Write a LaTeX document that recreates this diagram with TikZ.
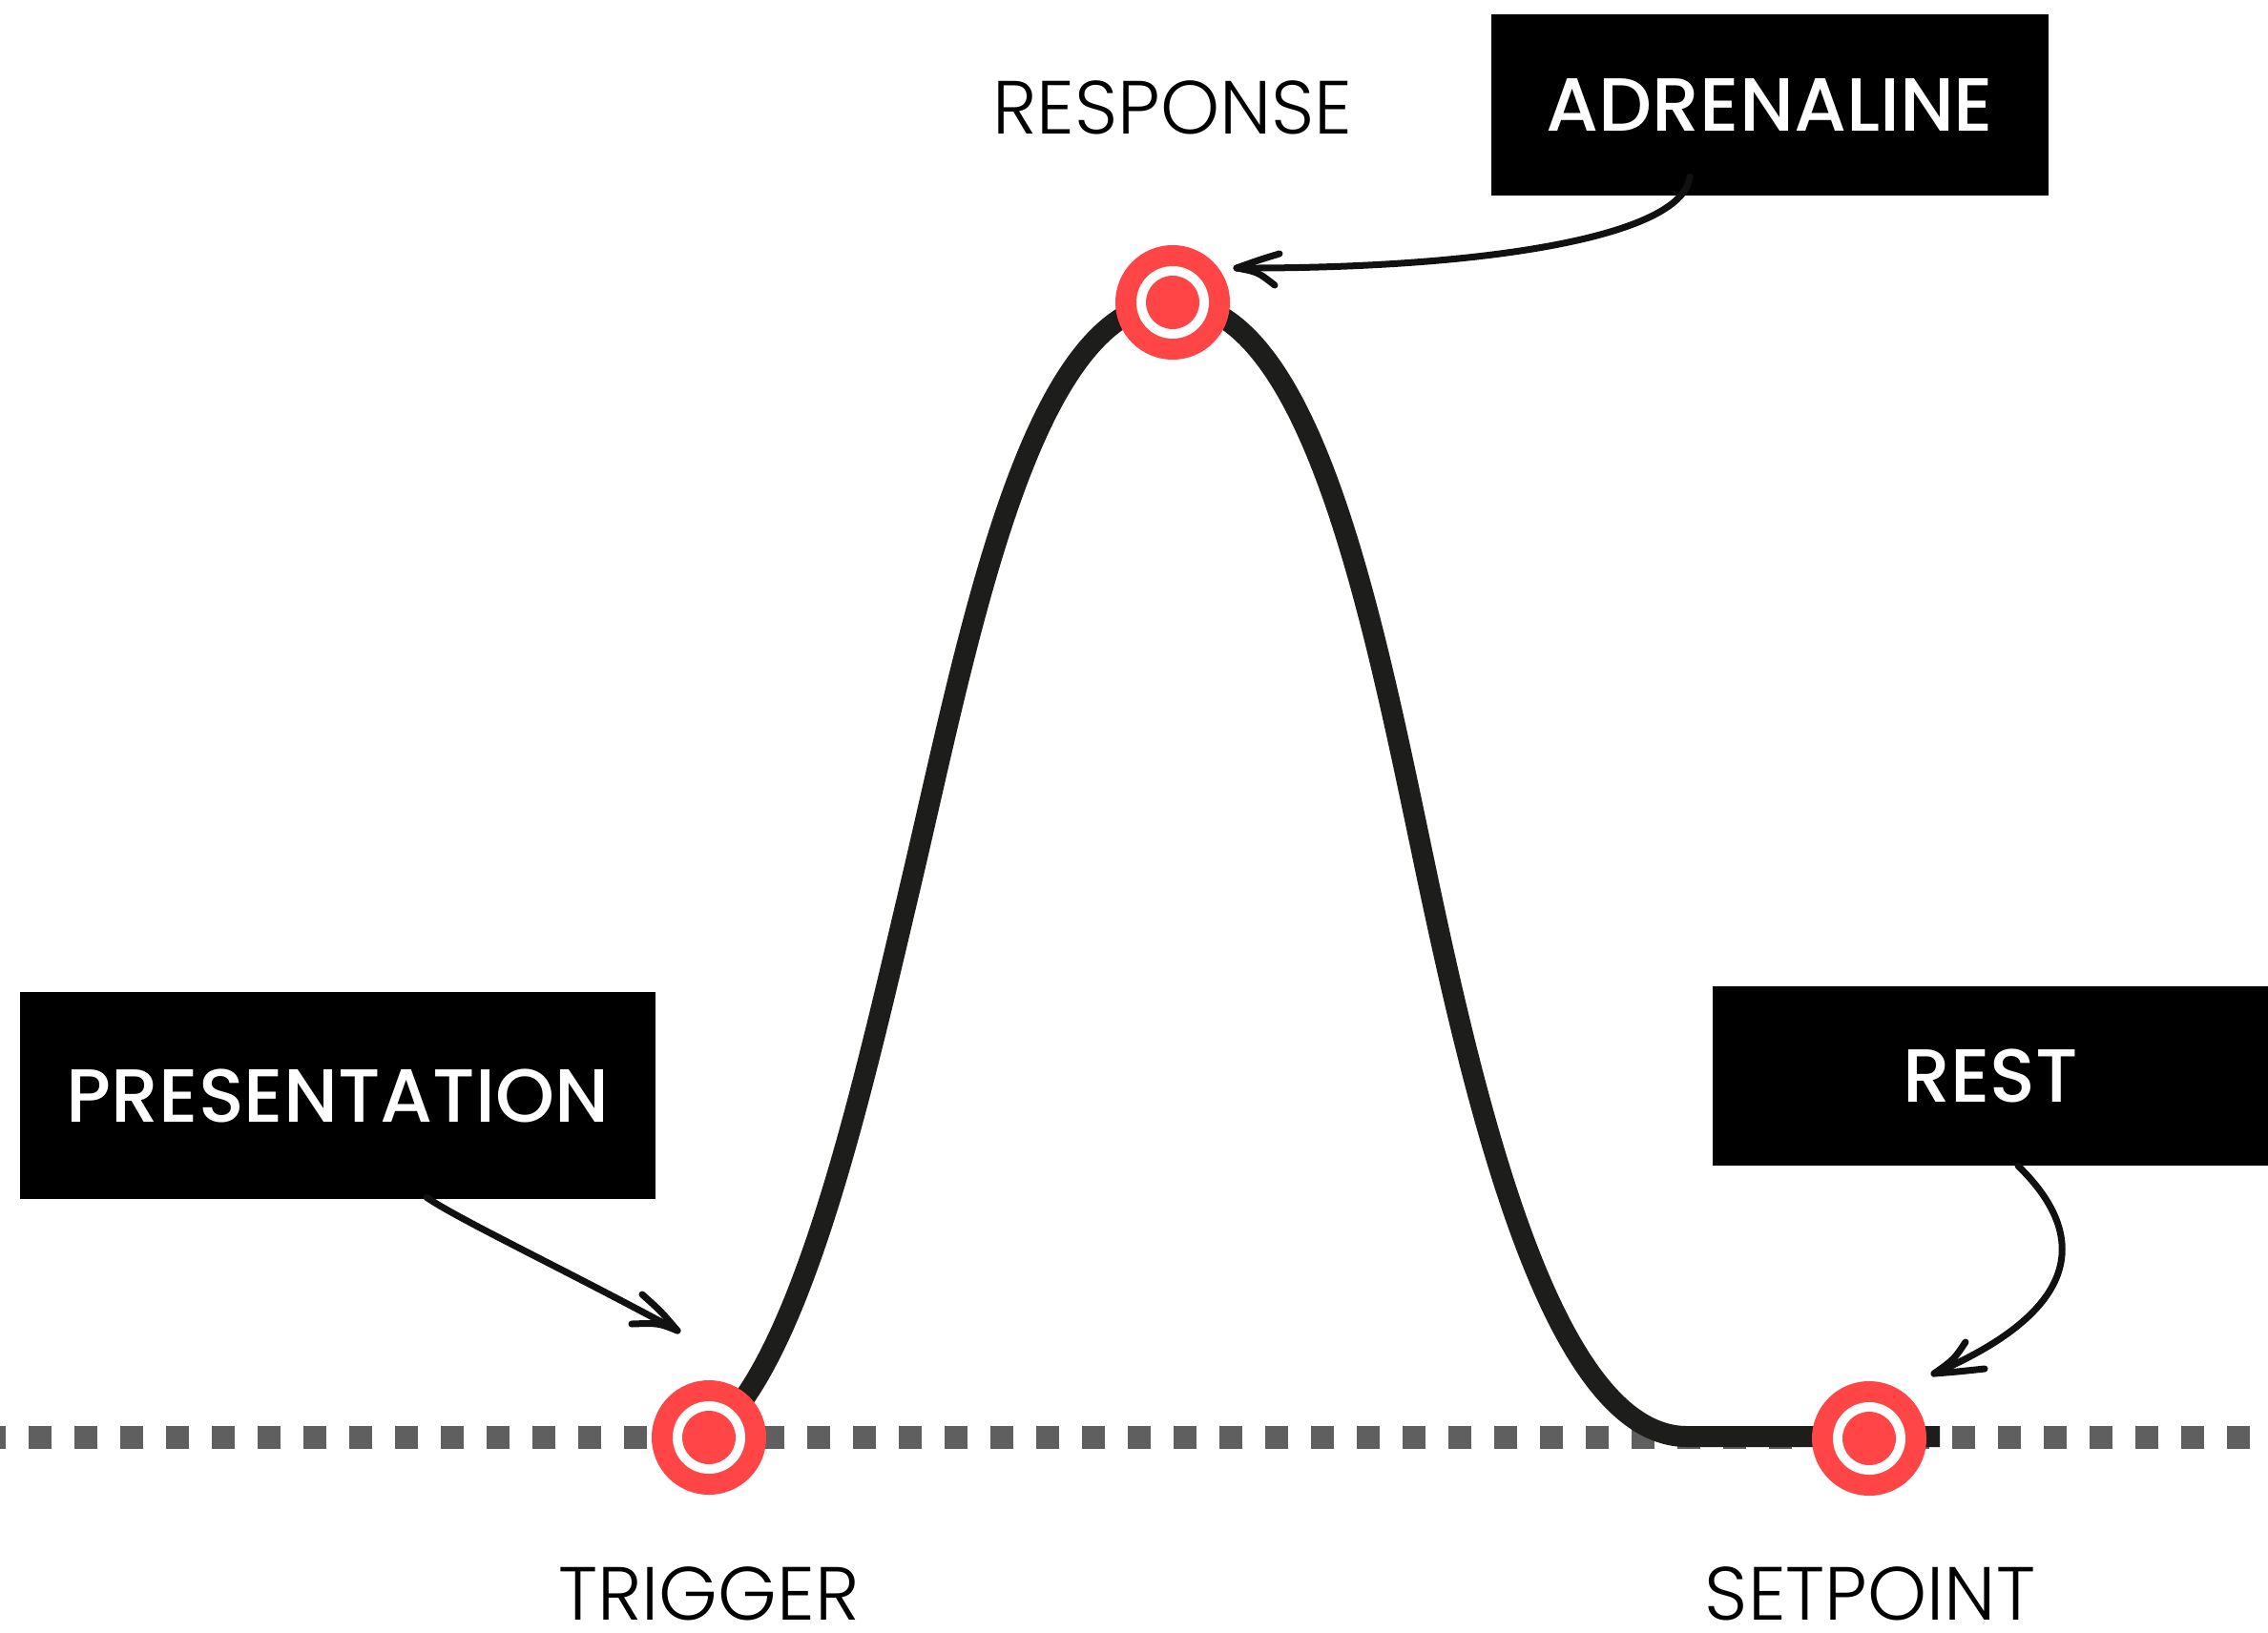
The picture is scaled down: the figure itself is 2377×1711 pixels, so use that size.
\documentclass[tikz,border=0pt]{standalone}
\usepackage{fontspec}
\setmainfont{Poppins Light}
\newfontfamily\boxfont{Poppins Medium}
\usetikzlibrary{calc}
\definecolor{dotred}{HTML}{FF4545}
\definecolor{curvecol}{HTML}{1D1D1B}
\definecolor{dashgray}{HTML}{5F5F5F}
\definecolor{arrowcol}{HTML}{111111}
\begin{document}
\begin{tikzpicture}[x=1pt,y=-1pt,
  target/.style={circle,fill=dotred,minimum size=120pt,inner sep=0pt,
    path picture={\fill[white] (path picture bounding box.center) circle (38pt);
                  \fill[dotred] (path picture bounding box.center) circle (28pt);}},
  label/.style={font=\fontsize{79}{79}\selectfont,anchor=base,inner sep=0pt,text=black,
    text depth=0pt},
  blackbox/.style={fill=black,text=white,font=\boxfont\fontsize{79}{79}\selectfont,
    inner sep=0pt,text height=55pt,text depth=0pt},
  handarrow/.style={draw=arrowcol,line width=7pt,line cap=round,line join=round},
  curveline/.style={draw=curvecol,line width=22pt},
  baseline/.style={draw=dashgray,line width=24pt,dash pattern=on 24pt off 24pt}
]
\useasboundingbox (0,0) rectangle (2377,1711);
\fill[white] (0,0) rectangle (2377,1711);
\begin{scope}
\clip (0,0) rectangle (2377,1711);
% dashed set line
\coordinate (dl) at (-18,1507);
\coordinate (dr) at (2400,1507);
\draw[baseline] (dl) -- (dr);

% boxes
\node[blackbox,minimum width=584pt,minimum height=190pt] (adren) at (1855,110) {ADRENALINE};
\node[blackbox,minimum width=666pt,minimum height=217pt] (pres) at (354,1148.5) {PRESENTATION};
\node[blackbox,minimum width=582pt,minimum height=188pt] (rest) at (2086,1128) {REST};

% curve
\coordinate (c0) at (743,1507);
\coordinate (ci1) at (955,925);
\coordinate (cp) at (1229,317);
\coordinate (ci2) at (1497,925);
\coordinate (cf) at (1768,1506);
\coordinate (ce) at (2033,1506);
\draw[curveline] (c0) .. controls (840,1430) and (903,1145) .. (ci1)
  .. controls (1016,665) and (1080,317) .. (cp)
  .. controls (1378,317) and (1442,665) .. (ci2)
  .. controls (1550,1175) and (1630,1506) .. (cf) -- (ce);

% target points
\node[target] (trig) at (743,1507) {};
\node[target] (peak) at (1229,317) {};
\node[target] (setp) at (1959,1508) {};

% labels
\node[label] (lresp) at (1229,140) {RESPONSE};
\node[label] (ltrig) at (743,1698) {TRIGGER};
\node[label] (lsetp) at (1960,1698) {SETPOINT};

% arrows
\coordinate (a1s) at ($(adren.south)+(-84,-20)$);
\coordinate (a1t) at ($(peak)+(67,-36)$);
\draw[handarrow] (a1s) .. controls +(-7,64) and +(254,1) .. (a1t);
\draw[handarrow] ($(a1t)+(45,-15)$) .. controls +(-20,6) .. (a1t)
  .. controls +(22,4) .. ($(a1t)+(40,18)$);

\coordinate (a2s) at ($(pres.south)+(93,-2)$);
\coordinate (a2t) at ($(trig)+(-33,-112)$);
\draw[handarrow] (a2s) .. controls +(33,23) and +(-110,-60) .. (a2t);
\draw[handarrow] ($(a2t)+(-37,-38)$) .. controls +(20,18) .. (a2t)
  .. controls +(-20,-8) .. ($(a2t)+(-48,-7)$);

\coordinate (a3s) at ($(rest.south)+(29,0)$);
\coordinate (a3t) at ($(setp)+(68,-68)$);
\draw[handarrow] (a3s) .. controls +(70,68) and +(163,-70) .. (a3t);
\draw[handarrow] ($(a3t)+(33,-33)$) .. controls +(-12,18) .. (a3t)
  .. controls +(25,-2) .. ($(a3t)+(53,-5)$);
\end{scope}
\end{tikzpicture}
\end{document}
